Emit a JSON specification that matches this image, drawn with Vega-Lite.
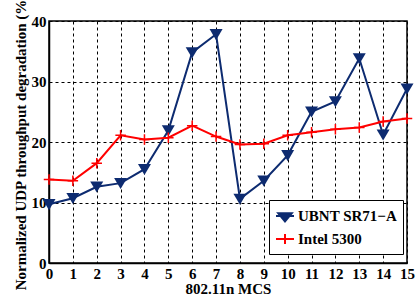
{
  "$schema": "https://vega.github.io/schema/vega-lite/v6.json",
  "width": 358,
  "height": 242,
  "autosize": "none",
  "padding": {"left": 49, "top": 21, "right": 12, "bottom": 37},
  "background": "white",
  "config": {
    "view": {"stroke": "black", "strokeWidth": 1.5},
    "font": "Liberation Serif",
    "legend": {"labelFont": "Liberation Serif", "labelFontWeight": "bold", "labelFontSize": 15, "labelColor": "black"},
    "axis": {
      "labelFont": "Liberation Serif",
      "labelFontWeight": "bold",
      "labelFontSize": 15,
      "labelColor": "black",
      "titleFont": "Liberation Serif",
      "titleFontWeight": "bold",
      "titleFontSize": 15,
      "titleColor": "black",
      "domainColor": "black",
      "domainWidth": 1.5,
      "ticks": false,
      "gridColor": "black",
      "gridDash": [3, 3],
      "gridWidth": 1,
      "gridOpacity": 1
    }
  },
  "data": {
    "values": [
      {"mcs": 0, "value": 9.7, "device": "UBNT SR71−A"},
      {"mcs": 1, "value": 10.7, "device": "UBNT SR71−A"},
      {"mcs": 2, "value": 12.6, "device": "UBNT SR71−A"},
      {"mcs": 3, "value": 13.2, "device": "UBNT SR71−A"},
      {"mcs": 4, "value": 15.5, "device": "UBNT SR71−A"},
      {"mcs": 5, "value": 21.9, "device": "UBNT SR71−A"},
      {"mcs": 6, "value": 34.8, "device": "UBNT SR71−A"},
      {"mcs": 7, "value": 37.8, "device": "UBNT SR71−A"},
      {"mcs": 8, "value": 10.6, "device": "UBNT SR71−A"},
      {"mcs": 9, "value": 13.6, "device": "UBNT SR71−A"},
      {"mcs": 10, "value": 17.8, "device": "UBNT SR71−A"},
      {"mcs": 11, "value": 25.0, "device": "UBNT SR71−A"},
      {"mcs": 12, "value": 26.7, "device": "UBNT SR71−A"},
      {"mcs": 13, "value": 33.8, "device": "UBNT SR71−A"},
      {"mcs": 14, "value": 21.2, "device": "UBNT SR71−A"},
      {"mcs": 15, "value": 28.8, "device": "UBNT SR71−A"},
      {"mcs": 0, "value": 13.8, "device": "Intel 5300"},
      {"mcs": 1, "value": 13.6, "device": "Intel 5300"},
      {"mcs": 2, "value": 16.5, "device": "Intel 5300"},
      {"mcs": 3, "value": 21.1, "device": "Intel 5300"},
      {"mcs": 4, "value": 20.4, "device": "Intel 5300"},
      {"mcs": 5, "value": 20.7, "device": "Intel 5300"},
      {"mcs": 6, "value": 22.7, "device": "Intel 5300"},
      {"mcs": 7, "value": 20.9, "device": "Intel 5300"},
      {"mcs": 8, "value": 19.6, "device": "Intel 5300"},
      {"mcs": 9, "value": 19.7, "device": "Intel 5300"},
      {"mcs": 10, "value": 21.1, "device": "Intel 5300"},
      {"mcs": 11, "value": 21.6, "device": "Intel 5300"},
      {"mcs": 12, "value": 22.1, "device": "Intel 5300"},
      {"mcs": 13, "value": 22.4, "device": "Intel 5300"},
      {"mcs": 14, "value": 23.4, "device": "Intel 5300"},
      {"mcs": 15, "value": 23.9, "device": "Intel 5300"}
    ]
  },
  "encoding": {
    "x": {
      "field": "mcs",
      "type": "quantitative",
      "scale": {"domain": [0, 15], "nice": false, "zero": false},
      "axis": {
        "values": [0,1,2,3,4,5,6,7,8,9,10,11,12,13,14,15],
        "title": "802.11n MCS",
        "titleFont": "Liberation Serif",
        "titleFontWeight": "bold",
        "titleFontSize": 15,
        "labelFont": "Liberation Serif",
        "labelPadding": 3,
        "titlePadding": 0,
        "labelFlush": false,
        "labelOverlap": false
      }
    },
    "y": {
      "field": "value",
      "type": "quantitative",
      "scale": {"domain": [0, 40], "nice": false},
      "axis": {
        "values": [0, 10, 20, 30, 40],
        "title": "Normalized UDP throughput degradation (%)",
        "titleFont": "Liberation Serif",
        "titleFontWeight": "bold",
        "titleFontSize": 15,
        "labelFont": "Liberation Serif",
        "labelPadding": 3,
        "titlePadding": 3,
        "labelFlush": false
      }
    },
    "color": {
      "field": "device",
      "type": "nominal",
      "scale": {"domain": ["UBNT SR71−A", "Intel 5300"], "range": ["#0d2b70", "#ff0000"]}
    }
  },
  "layer": [
    {
      "mark": {"type": "line", "strokeWidth": 2},
      "encoding": {
        "color": {
          "field": "device",
          "type": "nominal",
          "scale": {"domain": ["UBNT SR71−A", "Intel 5300"], "range": ["#0d2b70", "#ff0000"]},
          "legend": {
            "title": null,
            "orient": "none",
            "legendX": 220,
            "legendY": 179,
            "fillColor": "white",
            "strokeColor": "black",
            "padding": 6,
            "labelFont": "Liberation Serif",
            "labelFontWeight": "bold",
            "labelFontSize": 15,
            "labelColor": "black",
            "labelOffset": 3,
            "rowPadding": 3,
            "symbolSize": 324,
            "symbolStrokeWidth": 2,
            "encode": {
              "labels": {
                "update": {
                  "font": {"value": "Liberation Serif"},
                  "fontWeight": {"value": "bold"},
                  "fontSize": {"value": 15}
                }
              },
              "symbols": {
                "update": {
                  "shape": {"signal": "datum.index === 0 ? 'M-1,0H1M-0.75,-0.3H0.75L0,0.6Z' : 'M-1,0H1M0,-0.55V0.55'"},
                  "fill": {"signal": "datum.index === 0 ? '#0d2b70' : 'transparent'"},
                  "strokeWidth": {"value": 2}
                }
              }
            }
          }
        }
      }
    },
    {
      "transform": [{"filter": "datum.device === 'UBNT SR71−A'"}],
      "mark": {"type": "point", "shape": "M-1,-0.8H1L0,0.9Z", "size": 169, "filled": true, "opacity": 1, "color": "#0d2b70"},
      "encoding": {"color": {"value": "#0d2b70"}}
    },
    {
      "transform": [{"filter": "datum.device === 'Intel 5300'"}],
      "mark": {"type": "point", "shape": "M-1,0H1M0,-1V1", "size": 110, "filled": false, "strokeWidth": 1.5, "opacity": 1, "color": "#ff0000"},
      "encoding": {"color": {"value": "#ff0000"}}
    }
  ]
}
